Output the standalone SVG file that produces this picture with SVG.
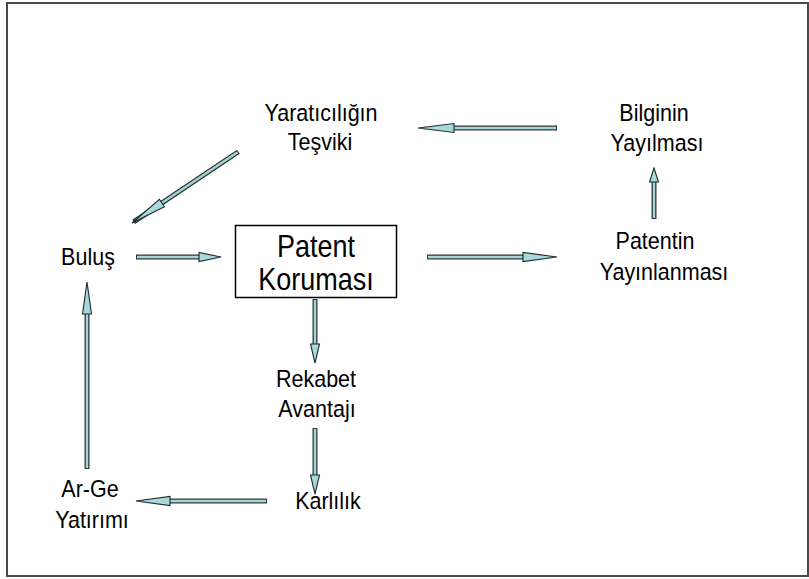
<svg xmlns="http://www.w3.org/2000/svg" width="809" height="579" viewBox="0 0 809 579">
<style>
.lbl{font-family:"Liberation Sans",Arial,sans-serif;font-size:21.5px;fill:#000;text-anchor:middle}
.big{font-size:27px}
.so{stroke:#2b3a3c;stroke-width:5;stroke-linecap:butt;fill:none}
.si{stroke:#a9d3d6;stroke-width:2.4;fill:none}
.hd{fill:#a9d8dc;stroke:#1e2a2c;stroke-width:1.1;stroke-linejoin:miter}
</style>
<rect x="0" y="0" width="809" height="579" fill="#fff"/>
<rect x="7" y="3" width="801" height="573" fill="none" stroke="#4a4a4a" stroke-width="2"/>

<g id="patent-korumasi">
<rect x="235.5" y="225.5" width="161" height="72" fill="#fff" stroke="#000" stroke-width="1.5"/>
<g transform="translate(316,257) scale(1,1.18)"><text class="lbl big" x="0" y="0">Patent</text></g>
<g transform="translate(316,290) scale(1,1.18)"><text class="lbl big" x="0" y="0">Koruması</text></g>
</g>
<g id="yaraticiligin-tesviki">
<g transform="translate(321,121) scale(1,1.1)"><text class="lbl" x="0" y="0">Yaratıcılığın</text></g>
<g transform="translate(320,150) scale(1,1.1)"><text class="lbl" x="0" y="0">Teşviki</text></g>
</g>
<g id="bilginin-yayilmasi">
<g transform="translate(654,121) scale(1,1.1)"><text class="lbl" x="0" y="0">Bilginin</text></g>
<g transform="translate(657,151) scale(1,1.1)"><text class="lbl" x="0" y="0">Yayılması</text></g>
</g>
<g id="bulus">
<g transform="translate(88,265) scale(1,1.1)"><text class="lbl" x="0" y="0">Buluş</text></g>
</g>
<g id="patentin-yayinlanmasi">
<g transform="translate(655,249) scale(1,1.1)"><text class="lbl" x="0" y="0">Patentin</text></g>
<g transform="translate(664,280) scale(1,1.1)"><text class="lbl" x="0" y="0">Yayınlanması</text></g>
</g>
<g id="rekabet-avantaji">
<g transform="translate(316,387) scale(1,1.1)"><text class="lbl" x="0" y="0">Rekabet</text></g>
<g transform="translate(317,417) scale(1,1.1)"><text class="lbl" x="0" y="0">Avantajı</text></g>
</g>
<g id="karlilik">
<g transform="translate(328,509) scale(1,1.1)"><text class="lbl" x="0" y="0">Karlılık</text></g>
</g>
<g id="arge-yatirimi">
<g transform="translate(90,497) scale(1,1.1)"><text class="lbl" x="0" y="0">Ar-Ge</text></g>
<g transform="translate(92,528) scale(1,1.1)"><text class="lbl" x="0" y="0">Yatırımı</text></g>
</g>

<g id="connectors">
<!-- diagonal Yaratıcılığın -> Buluş -->
<g transform="translate(132,223) rotate(146.2)">
<line class="so" x1="-2" y1="0" x2="-128" y2="0"/><line class="si" x1="-4" y1="0" x2="-127" y2="0"/>
<path class="hd" d="M0,0 L-36,-4.5 L-36,4.5 Z"/>
</g>
<!-- Buluş -> Patent -->
<g transform="translate(221,257)">
<line class="so" x1="-20" y1="0" x2="-85" y2="0"/><line class="si" x1="-20" y1="0" x2="-84" y2="0"/>
<path class="hd" d="M0,0 L-22,-4.5 L-22,4.5 Z"/>
</g>
<!-- Bilginin -> Yaratıcılığın -->
<g transform="translate(418,128) rotate(180)">
<line class="so" x1="-34" y1="0" x2="-139" y2="0"/><line class="si" x1="-34" y1="0" x2="-138" y2="0"/>
<path class="hd" d="M0,0 L-36,-4.5 L-36,4.5 Z"/>
</g>
<!-- Patent -> Patentin -->
<g transform="translate(557,257)">
<line class="so" x1="-32" y1="0" x2="-130" y2="0"/><line class="si" x1="-32" y1="0" x2="-129" y2="0"/>
<path class="hd" d="M0,0 L-34,-4.5 L-34,4.5 Z"/>
</g>
<!-- Patent -> Rekabet -->
<g transform="translate(315,363) rotate(90)">
<line class="so" x1="-16" y1="0" x2="-64" y2="0"/><line class="si" x1="-16" y1="0" x2="-63" y2="0"/>
<path class="hd" d="M0,0 L-19,-4.5 L-19,4.5 Z"/>
</g>
<!-- Rekabet -> Karlılık -->
<g transform="translate(315,494) rotate(90)">
<line class="so" x1="-16" y1="0" x2="-66" y2="0"/><line class="si" x1="-16" y1="0" x2="-65" y2="0"/>
<path class="hd" d="M0,0 L-19,-4.5 L-19,4.5 Z"/>
</g>
<!-- Karlılık -> Ar-Ge -->
<g transform="translate(136,501) rotate(180)">
<line class="so" x1="-32" y1="0" x2="-131" y2="0"/><line class="si" x1="-32" y1="0" x2="-130" y2="0"/>
<path class="hd" d="M0,0 L-34,-4.5 L-34,4.5 Z"/>
</g>
<!-- Ar-Ge -> Buluş -->
<g transform="translate(87,282) rotate(-90)">
<line class="so" x1="-30" y1="0" x2="-187" y2="0"/><line class="si" x1="-30" y1="0" x2="-186" y2="0"/>
<path class="hd" d="M0,0 L-32,-4.5 L-32,4.5 Z"/>
</g>
<!-- Patentin -> Bilginin -->
<g transform="translate(654,168) rotate(-90)">
<line class="so" x1="-12" y1="0" x2="-51" y2="0"/><line class="si" x1="-12" y1="0" x2="-50" y2="0"/>
<path class="hd" d="M0,0 L-14,-4.5 L-14,4.5 Z"/>
</g>
</g>
</svg>
